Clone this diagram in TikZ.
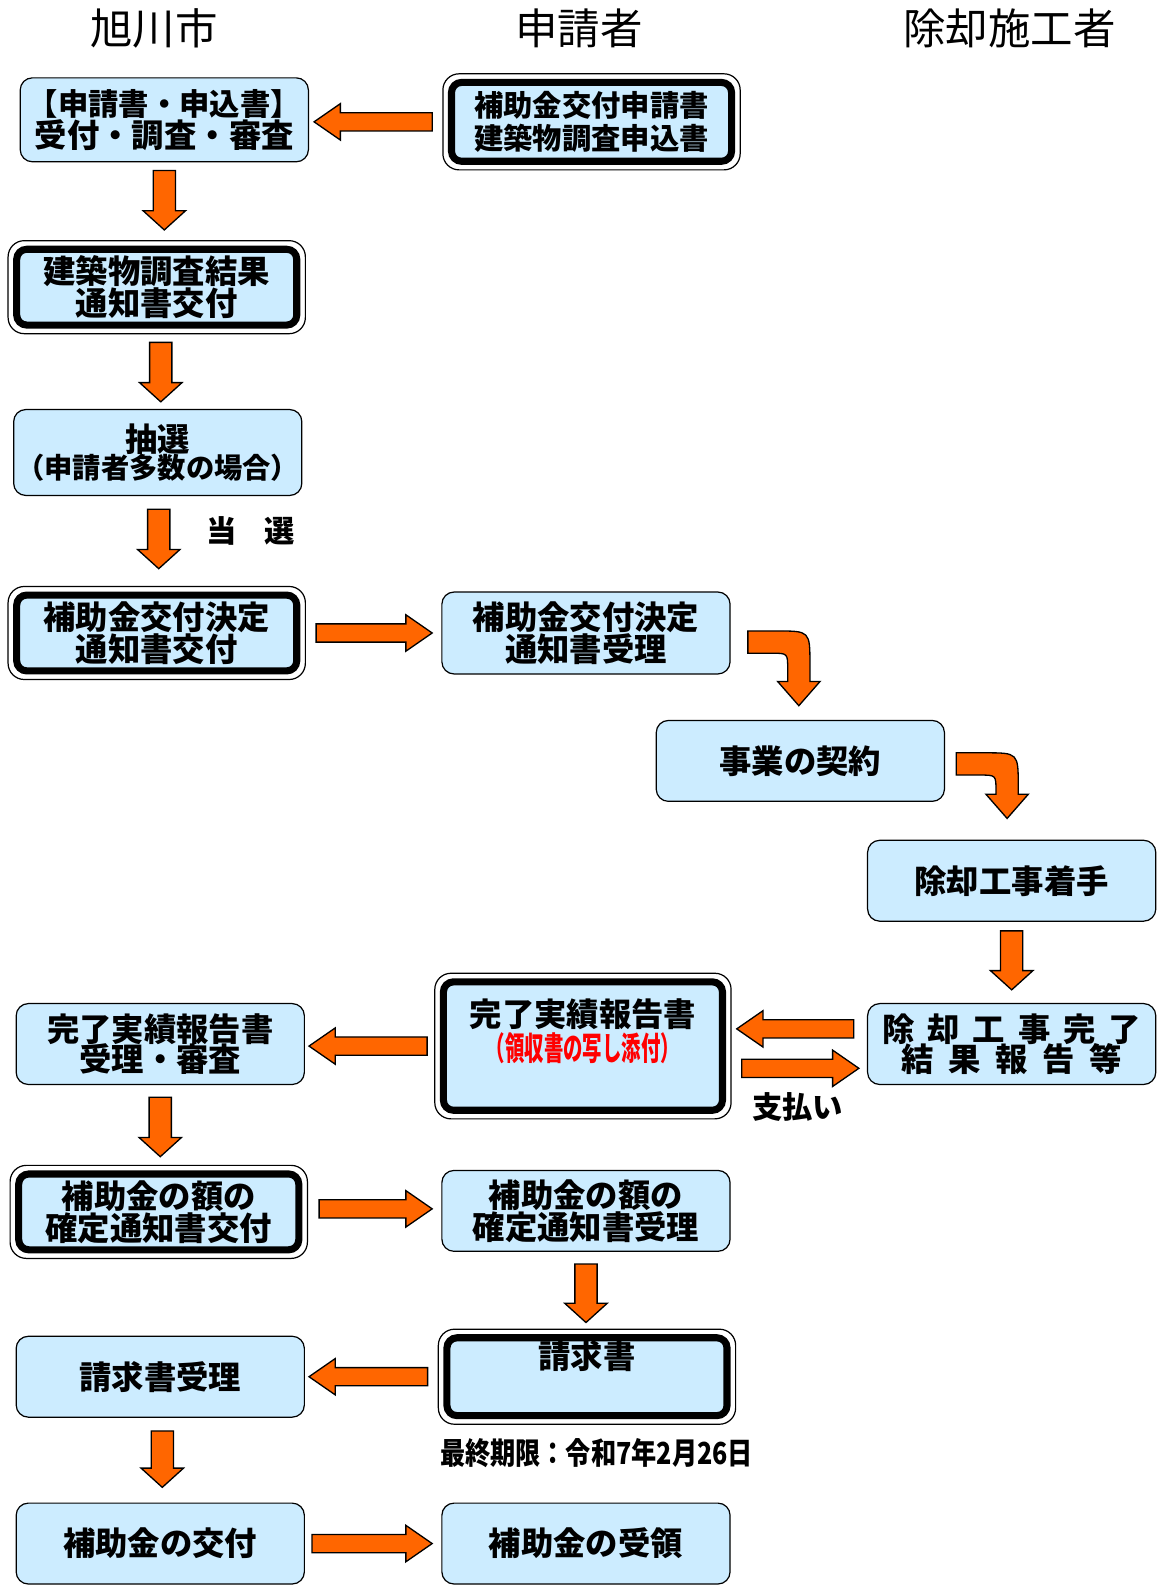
\documentclass[tikz,border=0pt]{standalone}
\usepackage{fontspec}
\usepackage{graphicx}
\usepackage{xcolor}
\usepackage{tikz}
\usetikzlibrary{calc, positioning, arrows.meta}
\newfontfamily\jp{Noto Sans CJK JP}
\definecolor{skyfill}{RGB}{204,236,255}
\definecolor{arroworange}{RGB}{255,102,0}
\newcommand\boxfont{\jp\bfseries\fontsize{32}{30}\selectfont}
\newcommand\headfont{\jp\fontsize{42}{42}\selectfont}
\tikzset{
  head/.style={font=\headfont},
  note/.style={font=\jp\bfseries\fontsize{30}{30}\selectfont},
  box/.style={draw, line width=1.2pt, rounded corners=12pt, fill=skyfill,
    minimum width=285pt, minimum height=80pt, inner sep=0pt, align=center, font=\boxfont},
  dblbox/.style={draw, line width=1.2pt, rounded corners=16pt, fill=white,
    minimum width=294pt, minimum height=92pt, inner sep=0pt, align=center, font=\boxfont,
    path picture={\draw[line width=7pt, fill=skyfill, rounded corners=10pt]
      ($(path picture bounding box.north west)+(8.5pt,-8.5pt)$) rectangle
      ($(path picture bounding box.south east)+(-8.5pt,8.5pt)$);}},
  blockarrow/.style={draw, line width=1.3pt, fill=arroworange, line join=miter}
}
\newcommand\blockarrow[5]{%
  \draw[blockarrow] let \p1=(#1), \p2=(#2), \n1={atan2(\y2-\y1,\x2-\x1)},
    \n2={veclen(\x2-\x1,\y2-\y1)} in [shift={(\p1)}, rotate=\n1]
    (0,#3) -- (\n2-#5,#3) -- (\n2-#5,#4) -- (\n2,0) -- (\n2-#5,-#4)
    -- (\n2-#5,-#3) -- (0,-#3) -- cycle;}
\newcommand\harrow[2]{\blockarrow{#1}{#2}{9}{18}{26}}
\newcommand\varrow[2]{\blockarrow{#1}{#2}{11}{21}{19}}
\newcommand\bendarrow[2]{%
  \draw[blockarrow] let \p1=(#1), \p2=(#2) in
    (\x1,\y1+11pt) -- (\x2-22pt,\y1+11pt)
    .. controls (\x2+11pt,\y1+11pt) .. (\x2+11pt,\y1-22pt)
    -- (\x2+11pt,\y2+24pt) -- (\x2+21pt,\y2+24pt) -- (\p2)
    -- (\x2-21pt,\y2+24pt) -- (\x2-11pt,\y2+24pt)
    -- (\x2-11pt,\y1-27pt) .. controls (\x2-11pt,\y1-11pt) .. (\x2-27pt,\y1-11pt)
    -- (\x1,\y1-11pt) -- cycle;}

\begin{document}
\begin{tikzpicture}[x=1pt, y=1pt]
\useasboundingbox (0,0) rectangle (1148,-1567.5);

\node (city) [head] at (152.5,-28) {旭川市};
\node (appl) [head, node distance=420pt, right of=city] {申請者};
\node (contr) [head, node distance=426pt, right of=appl] {除却施工者};

\node (reg) [box, minimum height=83pt] at (162.5,-118.5) {{\fontsize{30}{30}\selectfont 【申請書・申込書】}\\受付・調査・審査};
\node (form) [dblbox, minimum height=95pt, font=\boxfont\fontsize{29}{33}\selectfont, node distance=422.5pt, right of=reg, yshift=-2pt] {補助金交付申請書\\建築物調査申込書};
\node (survey) [dblbox, node distance=165.5pt, below of=reg, xshift=-7.5pt] {建築物調査結果\\通知書交付};
\node (lottery) [box, minimum height=85pt, node distance=163.5pt, below of=survey, xshift=1pt] {抽選\\[-3pt]{\fontsize{28}{28}\selectfont （申請者多数の場合）}};
\node (decide) [dblbox, node distance=178.5pt, below of=lottery, xshift=-1pt] {補助金交付決定\\通知書交付};
\node (decrecv) [box, minimum height=81pt, node distance=424.5pt, right of=decide] {補助金交付決定\\通知書受理};
\node (contract) [box, node distance=126.5pt, below of=decrecv, xshift=212pt] {事業の契約};
\node (start) [box, node distance=118.5pt, below of=contract, xshift=209pt] {除却工事着手};
\node (done) [box, node distance=161.5pt, below of=start] {\makebox[255pt][s]{除\hfill 却\hfill 工\hfill 事\hfill 完\hfill 了}\\[-2pt]\makebox[217pt][s]{結\hfill 果\hfill 報\hfill 告\hfill 等}};
\node (report) [dblbox, minimum width=293pt, minimum height=144pt, node distance=424pt, left of=done, yshift=-2pt] {完了実績報告書\\[2pt]{\color{red}\scalebox{0.6}[1]{（領収書の写し添付）}}\\[2pt]\mbox{}};
\node (check) [box, node distance=418pt, left of=report, yshift=2pt] {完了実績報告書\\[-2pt]受理・審査};
\node (fix) [dblbox, node distance=166pt, below of=check, xshift=-1.5pt] {補助金の額の\\確定通知書交付};
\node (fixrecv) [box, node distance=422.5pt, right of=fix, yshift=1pt] {補助金の額の\\確定通知書受理};
\node (bill) [dblbox, minimum height=94pt, node distance=164pt, below of=fixrecv, xshift=1pt] {請求書\\[14pt]\mbox{}};
\node (billrecv) [box, node distance=422pt, left of=bill] {請求書受理};
\node (grant) [box, node distance=165pt, below of=billrecv] {補助金の交付};
\node (receipt) [box, node distance=421pt, right of=grant] {補助金の受領};

\node (win) [note] at (248,-525) {\makebox[87pt][s]{当\hfill 選}};
\node (paid) [note] at (789,-1095) {支払い};
\node (deadline) [note] at (590,-1437) {\scalebox{0.83}[1]{最終期限：令和7年2月26日}};

\harrow{$(form.west)+(-10,0)$}{$(form.west -| reg.east)+(5,0)$}
\varrow{$(reg.south)+(0,-8)$}{$(reg.south |- survey.north)+(0,10)$}
\varrow{$(survey.south)+(4,-8)$}{$(survey.south |- lottery.north)+(4,7)$}
\varrow{$(lottery.south)+(1,-13)$}{$(lottery.south |- decide.north)+(1,17)$}
\harrow{$(decide.east)+(10,0)$}{$(decide.east -| decrecv.west)+(-9,0)$}
\bendarrow{$(decrecv.east)+(17,-9)$}{$(contract.north)+(-1.5,14)$}
\bendarrow{$(contract.east)+(11,-3)$}{$(start.north)+(-4.5,21)$}
\varrow{$(start.south)+(0,-9)$}{$(start.south |- done.north)+(0,13)$}
\harrow{$(done.west)+(-13,15)$}{$(done.west -| report.east)+(5,15)$}
\harrow{$(report.east)+(10,-22)$}{$(report.east -| done.west)+(-8,-22)$}
\harrow{$(report.west)+(-7,0)$}{$(report.west -| check.east)+(4,0)$}
\varrow{$(check.south)+(0,-12)$}{$(check.south |- fix.north)+(0,8)$}
\harrow{$(fix.east)+(11,3)$}{$(fix.east -| fixrecv.west)+(-9,3)$}
\varrow{$(fixrecv.south)+(0,-12)$}{$(fixrecv.south |- bill.north)+(0,6)$}
\harrow{$(bill.west)+(-10,0)$}{$(bill.west -| billrecv.east)+(4,0)$}
\varrow{$(billrecv.south)+(2,-13)$}{$(billrecv.south |- grant.north)+(2,15)$}
\harrow{$(grant.east)+(7,0)$}{$(grant.east -| receipt.west)+(-9,0)$}
\end{tikzpicture}
\end{document}
